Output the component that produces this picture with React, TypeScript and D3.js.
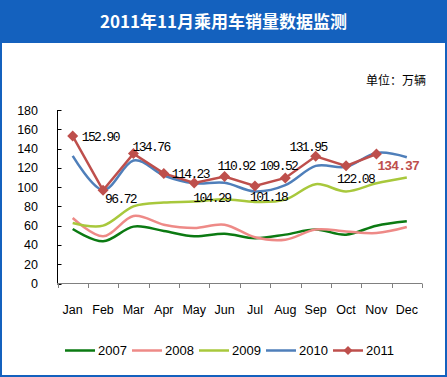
import React from "react";
import * as d3 from "d3";

const months = ["Jan", "Feb", "Mar", "Apr", "May", "Jun", "Jul", "Aug", "Sep", "Oct", "Nov", "Dec"];
const yTicks = [0, 20, 40, 60, 80, 100, 120, 140, 160, 180];
const s2007 = [56.5, 43.8, 59, 54.5, 49, 51.7, 47, 50.7, 56, 50.7, 60, 64.5];
const s2008 = [68, 49, 70, 61, 57.6, 61, 48, 45.5, 56, 54, 52.4, 58.6];
const s2009 = [62.7, 60, 80, 84, 85, 87.5, 84.5, 87, 103, 95.5, 104, 110];
const s2010 = [132.4, 97, 127.6, 112, 104, 104.5, 95.5, 102, 122, 121, 135.5, 131];
const s2011 = [152.9, 96.72, 134.76, 114.23, 104.29, 110.92, 101.18, 109.52, 131.95, 122.08, 134.37];
const labels2011 = ["152.90", "96.72", "134.76", "114.23", "104.29", "110.92", "101.18", "109.52", "131.95", "122.08", "134.37"];
// label offsets relative to point: [dx, dy, anchor]
const labelPos: [number, number, string][] = [
  [9, 0, "start"],
  [2, 8, "start"],
  [-1, -7, "start"],
  [8, 0, "start"],
  [-1, 15, "start"],
  [-7, -11, "start"],
  [-5, 11, "start"],
  [12, -12, "end"],
  [11, -10, "end"],
  [-9, 13, "start"],
  [1, 12, "start"],
];

const seriesNames = ["2007", "2008", "2009", "2010", "2011"];
const colors = ["#0B7A12", "#EE8A87", "#A8C83C", "#4F7FBA", "#BE4F4C"];

export default function App() {
  const W = 447, H = 377;
  const x = d3.scaleBand<string>().domain(months).range([57.5, 422]);
  const y = d3.scaleLinear().domain([0, 180]).range([283.5, 110]);
  const cx = (i: number) => (x(months[i]) as number) + x.bandwidth() / 2;
  const smooth = d3.line<number>().x((_, i) => cx(i)).y((d) => y(d)).curve(d3.curveCardinal.tension(0));
  const straight = d3.line<number>().x((_, i) => cx(i)).y((d) => y(d));
  const smoothSeries = [s2007, s2008, s2009, s2010];
  const legendX = [65, 132, 199, 266, 333];
  const diamond = (px: number, py: number, r: number) => `M${px},${py - r}L${px + r},${py}L${px},${py + r}L${px - r},${py}Z`;
  const blue = "#1461BE";
  return (
    <svg width={W} height={H} style={{ position: "absolute", left: 0, top: 0 }} fontFamily="'Liberation Sans', Arial, sans-serif">
      <rect x={0} y={0} width={W} height={H} fill="#fff" />
      <rect x={1} y={1} width={W - 2} height={H - 2} fill="none" stroke={blue} strokeWidth={2} />
      <rect x={0} y={0} width={W} height={43} fill={blue} />
      <text x={223.5} y={28} textAnchor="middle" fill="#fff" fontSize={17} fontWeight="bold" fontFamily="'Noto Sans CJK SC', sans-serif">2011年11月乘用车销量数据监测</text>
      <text x={426} y={85} textAnchor="end" fontSize={12} fontFamily="'Noto Sans CJK SC', sans-serif" fill="#000">单位：万辆</text>
      {/* y axis */}
      <line x1={57.5} x2={57.5} y1={110} y2={283.5} stroke="#000" strokeWidth={1} />
      {yTicks.map((t) => (
        <g key={t}>
          <line x1={57.5} x2={61.5} y1={Math.round(y(t)) + 0.5} y2={Math.round(y(t)) + 0.5} stroke="#000" />
          <text x={38} y={y(t) + 4.5} textAnchor="end" fontSize={12.5} fill="#000">{t}</text>
        </g>
      ))}
      {/* x axis */}
      <line x1={57.5} x2={422} y1={283.5} y2={283.5} stroke="#808080" />
      {months.map((m, i) => (
        <g key={m}>
          <line x1={Math.round(x(m) as number) + 0.5} x2={Math.round(x(m) as number) + 0.5} y1={283.5} y2={288} stroke="#808080" />
          <text x={cx(i)} y={313.5} textAnchor="middle" fontSize={12.5} fill="#000">{m}</text>
        </g>
      ))}
      <line x1={422.5} x2={422.5} y1={283.5} y2={288} stroke="#808080" />
      {smoothSeries.map((s, k) => (
        <path key={k} d={smooth(s) as string} fill="none" stroke={colors[k]} strokeWidth={2.5} />
      ))}
      <path d={straight(s2011) as string} fill="none" stroke={colors[4]} strokeWidth={2.5} />
      {s2011.map((v, i) => (
        <path key={i} d={diamond(cx(i), y(v), 5.5)} fill={colors[4]} />
      ))}
      {s2011.map((v, i) => {
        const [dx, dy, anchor] = labelPos[i];
        const last = i === s2011.length - 1;
        return (
          <text key={i} x={cx(i) + dx} y={y(v) + dy + 4.5} textAnchor={anchor as any}
            fontFamily="'Liberation Mono', monospace" fontSize={13}
            letterSpacing={last ? -0.9 : -1.6}
            fontWeight={last ? "bold" : "normal"} fill={last ? colors[4] : "#000"}>{labels2011[i]}</text>
        );
      })}
      {/* legend */}
      {seriesNames.map((n, k) => (
        <g key={n}>
          <line x1={legendX[k]} x2={legendX[k] + 30} y1={350.5} y2={350.5} stroke={colors[k]} strokeWidth={2.5} />
          {k === 4 && <path d={diamond(legendX[k] + 15, 350.5, 4.5)} fill={colors[k]} />}
          <text x={legendX[k] + 33} y={355} fontSize={13} fill="#000">{n}</text>
        </g>
      ))}
    </svg>
  );
}
